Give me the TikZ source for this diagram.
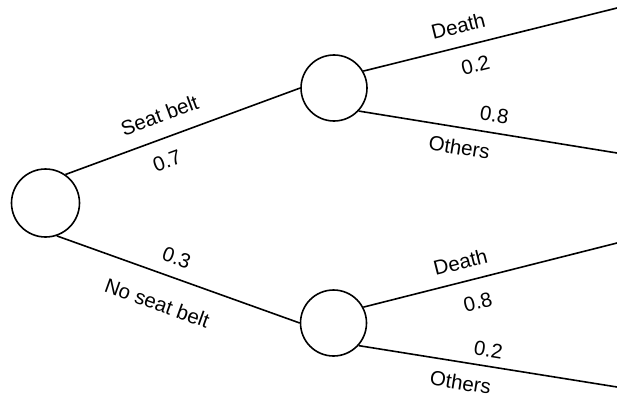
\documentclass[tikz,border=0pt]{standalone}
\usepackage{fontspec}
\setmainfont{Liberation Sans}
\usetikzlibrary{positioning}

\begin{document}
\begin{tikzpicture}[x=1pt,y=-1pt,line width=1.6pt,
    chance/.style={draw,circle,minimum size=66pt,inner sep=0pt},
    lbl/.style={sloped,inner sep=0pt,font=\fontsize{20.5}{22}\selectfont,
      text height=14.8pt,text depth=0pt}]
  \useasboundingbox (0,0) rectangle (617,396);
  % chance nodes
  \node[chance,minimum size=68pt] (root) at (45.5,203) {};
  \node[chance] (belt) at (334,88) {};
  \node[chance] (nobelt) at (333.5,323) {};
  % free ends of the outcome branches
  \coordinate (bdeath) at (617,8);
  \coordinate (bother) at (617,153);
  \coordinate (ndeath) at (617,243);
  \coordinate (nother) at (617,387);
  % first decision
  \draw (root.55) -- (belt.west)
    node[lbl,pos=0.435,above=15pt] {Seat belt}
    node[lbl,pos=0.40,below=13.8pt] {0.7};
  \draw (root.-71) -- (nobelt.west)
    node[lbl,pos=0.466,above=11.7pt] {0.3}
    node[lbl,pos=0.454,below=21pt] {No seat belt};
  % outcomes
  \draw (belt.30) -- (bdeath)
    node[lbl,pos=0.394,above=12.7pt] {Death}
    node[lbl,pos=0.422,below=12.5pt] {0.2};
  \draw (belt.-43) -- (bother)
    node[lbl,pos=0.514,above=10.2pt] {0.8}
    node[lbl,pos=0.402,below=11.3pt] {Others};
  \draw (nobelt.28) -- (ndeath)
    node[lbl,pos=0.402,above=11.8pt] {Death}
    node[lbl,pos=0.429,below=14.4pt] {0.8};
  \draw (nobelt.-42) -- (nother)
    node[lbl,pos=0.492,above=8.6pt] {0.2}
    node[lbl,pos=0.407,below=12pt] {Others};
\end{tikzpicture}
\end{document}
